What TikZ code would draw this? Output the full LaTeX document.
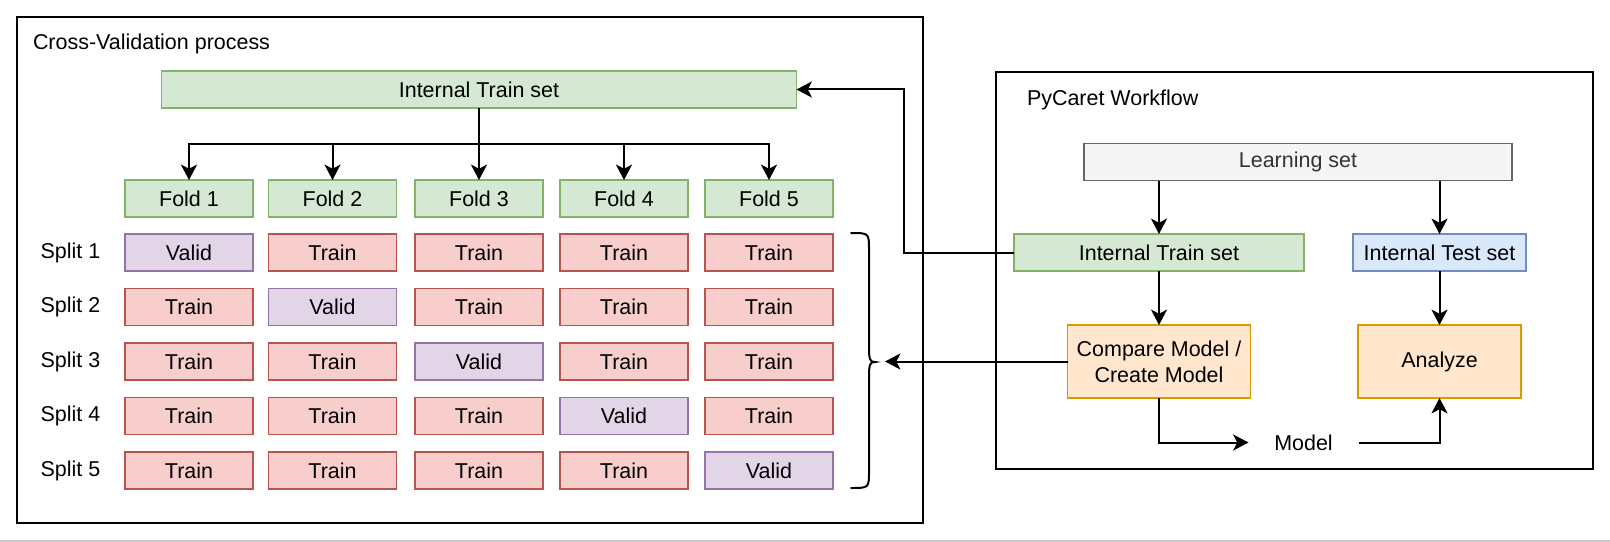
\documentclass[tikz,border=0pt]{standalone}
\usepackage{fontspec}
\setmainfont{Liberation Sans}
\usetikzlibrary{arrows.meta}
\definecolor{gfill}{HTML}{D5E8D4}\definecolor{gline}{HTML}{82B366}
\definecolor{rfill}{HTML}{F8CECC}\definecolor{rline}{HTML}{B85450}
\definecolor{pfill}{HTML}{E1D5E7}\definecolor{pline}{HTML}{9673A6}
\definecolor{bfill}{HTML}{DAE8FC}\definecolor{bline}{HTML}{6C8EBF}
\definecolor{ofill}{HTML}{FFE6CC}\definecolor{oline}{HTML}{D79B00}
\definecolor{kfill}{HTML}{F5F5F5}\definecolor{kline}{HTML}{666666}
\definecolor{ktext}{HTML}{333333}
\definecolor{pagegray}{HTML}{C8C8C8}
\begin{document}
\begin{tikzpicture}[x=0.75pt,y=-0.75pt,
  every node/.style={font=\fontsize{16.1pt}{19.5pt}\selectfont, inner sep=0pt, outer sep=0pt},
  cell/.style={draw, line width=1.2pt, minimum width=96pt, minimum height=27.75pt, align=center},
  green/.style={cell, fill=gfill, draw=gline},
  red/.style={cell, fill=rfill, draw=rline},
  purple/.style={cell, fill=pfill, draw=pline},
  blue/.style={cell, fill=bfill, draw=bline},
  orange/.style={cell, fill=ofill, draw=oline},
  grey/.style={cell, fill=kfill, draw=kline, text=ktext},
  frame/.style={draw, line width=1.5pt},
  arr/.style={line width=1.5pt, -{Stealth[length=11.5pt,width=12pt,inset=3pt]}},
  conn/.style={line width=1.5pt},
  label/.style={anchor=center}
]
\useasboundingbox (0,0) rectangle (1610,542);
\fill[white] (0,0) rectangle (1610,542);
\draw[pagegray, line width=1pt] (0,541) -- (1610,541);

% frames
\draw[frame] (17,17) rectangle (923,523);
\draw[frame] (996,72) rectangle (1593,469);
\node[anchor=west] (cvtitle) at (33,44) {Cross-Validation process};
\node[anchor=west] (pctitle) at (1027,100) {PyCaret Workflow};

% left part
\node[green, minimum width=476.25pt] (trainL) at (479,89.5) {Internal Train set};
\foreach \i/\x in {1/189,2/332.5,3/479,4/624,5/769}{
  \node[green] (f\i) at (\x,198.5) {Fold \i};
}
\foreach \i in {1,...,5}{
  \draw[arr] (trainL.south) -- (trainL.south |- 0,144) -| (f\i.north);
}
% splits
\foreach \r/\y in {1/252.5,2/307,3/361.5,4/416,5/470.5}{
  \node[label] (s\r) at (70.5,\y) {Split \r};
  \foreach \c/\x in {1/189,2/332.5,3/479,4/624,5/769}{
    \ifnum\r=\c
      \node[purple] (c\r\c) at (\x,\y) {Valid};
    \else
      \node[red] (c\r\c) at (\x,\y) {Train};
    \fi
  }
}
% brace
\draw[conn, line cap=round] (851,233) .. controls (869,233) and (869,233) .. (869,250)
  -- (869,347) .. controls (869,360) and (870,362) .. (875,362)
  .. controls (870,362) and (869,364) .. (869,377)
  -- (869,471) .. controls (869,488) and (869,488) .. (851,488);
\coordinate (bracetip) at (885,361.5);

% right part
\node[grey, minimum width=321pt] (learn) at (1298,162) {Learning set};
\node[green, minimum width=217.5pt] (trainR) at (1159,252.5) {Internal Train set};
\node[blue, minimum width=129.75pt] (testR) at (1439.5,252.5) {Internal Test set};
\node[orange, minimum width=137.25pt, minimum height=54.75pt] (compare) at (1159,361.5) {Compare Model /\\Create Model};
\node[orange, minimum width=122.25pt, minimum height=54.75pt] (analyze) at (1439.5,361.5) {Analyze};
\node[minimum width=82.5pt, minimum height=22pt] (model) at (1303.5,442.5) {Model};

\draw[arr] (learn.south -| trainR.north) -- (trainR.north);
\draw[arr] (learn.south -| testR.north) -- (testR.north);
\draw[arr] (trainR.south) -- (compare.north);
\draw[arr] (testR.south) -- (analyze.north);
\draw[arr] (compare.south) |- (model.west);
\draw[arr] (model.east) -| (analyze.south);
\draw[arr] (compare.west) -- (bracetip);
\draw[arr] (trainR.west) -- (904,252.5) |- (trainL.east);
\end{tikzpicture}
\end{document}
